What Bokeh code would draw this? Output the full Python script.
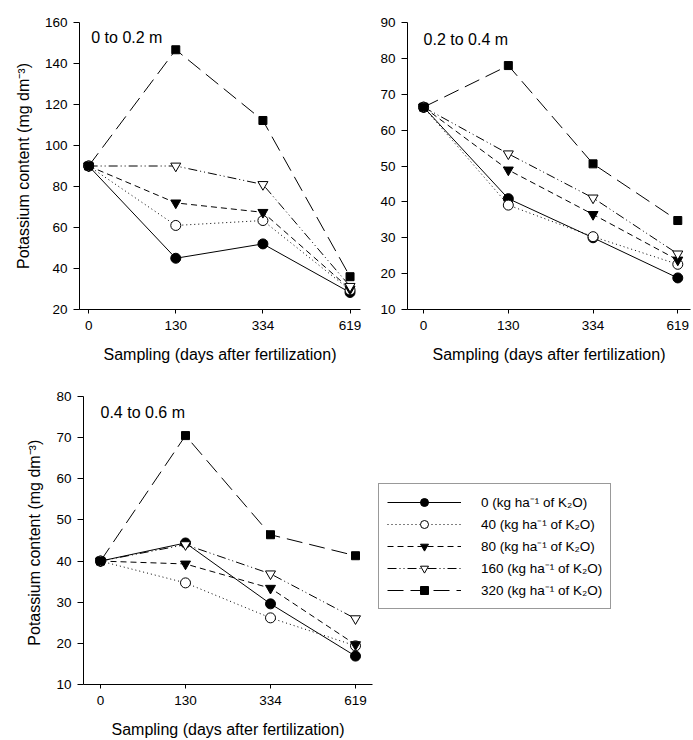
from bokeh.plotting import figure
from bokeh.layouts import column, row
from bokeh.models import FixedTicker, Label, Legend, LegendItem
from bokeh.embed import file_html
from bokeh.resources import INLINE

# ---------------- data ----------------
days = ["0", "130", "334", "619"]
doses = ["0", "40", "80", "160", "320"]

depth1 = "0 to 0.2 m"
k_0_20_d0 = [90, 45, 52, 28.3]
k_0_20_d40 = [90, 61, 63.4, 29.5]
k_0_20_d80 = [90, 72, 67.4, 30]
k_0_20_d160 = [90, 90, 81, 31.3]
k_0_20_d320 = [90, 146.7, 112.2, 36]

depth2 = "0.2 to 0.4 m"
k_20_40_d0 = [66.4, 40.9, 30, 18.8]
k_20_40_d40 = [66.4, 39.1, 30.3, 22.6]
k_20_40_d80 = [66.4, 48.9, 36.5, 23.8]
k_20_40_d160 = [66.4, 53.4, 41.1, 25.5]
k_20_40_d320 = [66.4, 78, 50.6, 34.8]

depth3 = "0.4 to 0.6 m"
k_40_60_d0 = [40, 44.4, 29.6, 16.9]
k_40_60_d40 = [40, 34.7, 26.2, 19.4]
k_40_60_d80 = [40, 39.3, 33.4, 19.7]
k_40_60_d160 = [40, 44, 36.9, 26]
k_40_60_d320 = [40, 70.5, 46.4, 41.3]

FONT = "Liberation Sans"
xpos = list(range(len(days)))

styles = [
    dict(dash="solid", marker="circle", fill="black", size=10),
    dict(dash="1 3", marker="circle", fill="white", size=10),
    dict(dash="6 4", marker="inverted_triangle", fill="black", size=10),
    dict(dash="9 3 1 3 1 3", marker="inverted_triangle", fill="white", size=10),
    dict(dash="16 7", marker="square", fill="black", size=8),
]


def make_panel(series, ylo, yhi, ystep, xlo, xhi, width, height, bl, br, bt, bb,
               title, title_xy, ylabel):
    p = figure(width=width, height=height, x_range=(xlo, xhi), y_range=(ylo, yhi),
               output_backend="svg", toolbar_location=None,
               min_border_left=bl, min_border_right=br,
               min_border_top=bt, min_border_bottom=bb)
    p.outline_line_color = None
    p.grid.visible = False
    p.background_fill_color = "white"
    p.border_fill_color = "white"
    for vals, st in zip(series, styles):
        p.line(xpos, vals, line_color="black", line_width=1, line_dash=st["dash"])
        p.scatter(xpos, vals, marker=st["marker"], size=st["size"],
                  fill_color=st["fill"], line_color="black", line_width=1)
    xa = p.xaxis[0]
    xa.ticker = FixedTicker(ticks=xpos)
    xa.major_label_overrides = {i: d for i, d in zip(xpos, days)}
    xa.axis_label = "Sampling (days after fertilization)"
    ya = p.yaxis[0]
    ya.ticker = FixedTicker(ticks=list(range(ylo, yhi + 1, ystep)))
    if ylabel:
        ya.axis_label = ylabel
    for ax in (xa, ya):
        ax.axis_line_color = "black"
        ax.major_tick_line_color = "black"
        ax.minor_tick_line_color = None
        ax.major_tick_in = 0
        ax.major_label_text_font = FONT
        ax.major_label_text_font_size = "13.5px"
        ax.major_label_text_color = "black"
        ax.axis_label_text_font = FONT
        ax.axis_label_text_font_size = "16px"
        ax.axis_label_text_font_style = "normal"
        ax.axis_label_text_color = "black"
    xa.major_tick_out = 4
    ya.major_tick_out = 6
    xa.major_label_standoff = 7
    xa.axis_label_standoff = 13
    ya.major_label_standoff = 6
    ya.axis_label_standoff = 10
    p.add_layout(Label(x=title_xy[0], y=title_xy[1], text=title, text_font=FONT,
                       text_font_size="16px", text_color="black",
                       text_baseline="middle", text_align="left"))
    return p


p1 = make_panel([k_0_20_d0, k_0_20_d40, k_0_20_d80, k_0_20_d160, k_0_20_d320],
                20, 160, 20, -0.105, 3.12, 365, 375, 79, 5, 22, 65,
                depth1, (0.03, 152.5), "Potassium content (mg dm\u207b\u00b3)")
p2 = make_panel([k_20_40_d0, k_20_40_d40, k_20_40_d80, k_20_40_d160, k_20_40_d320],
                10, 90, 10, -0.19, 3.15, 328, 375, 42, 3, 22, 66,
                depth2, (0.0, 85.3), None)
p3 = make_panel([k_40_60_d0, k_40_60_d40, k_40_60_d80, k_40_60_d160, k_40_60_d320],
                10, 80, 10, -0.2, 3.2, 375, 365, 83, 3, 21, 54,
                depth3, (0.0, 76.2), "Potassium content  (mg dm\u207b\u00b3)")

# legend panel: key glyphs drawn from the same series, kept outside the visible range
pl = figure(width=318, height=365, x_range=(50, 51), y_range=(500, 501),
            output_backend="svg", toolbar_location=None,
            min_border=0, min_border_left=0, min_border_right=0,
            min_border_top=0, min_border_bottom=0)
pl.outline_line_color = None
pl.axis.visible = False
pl.grid.visible = False
pl.background_fill_color = "white"
pl.border_fill_color = "white"
items = []
legend_series = [k_40_60_d0, k_40_60_d40, k_40_60_d80, k_40_60_d160, k_40_60_d320]
for d, st, vals in zip(doses, styles, legend_series):
    lr = pl.line(xpos, vals, line_color="black", line_width=1, line_dash=st["dash"])
    sr = pl.scatter(xpos, vals, marker=st["marker"], size=st["size"],
                    fill_color=st["fill"], line_color="black", line_width=1)
    items.append(LegendItem(label=d + " (kg ha\u207b\u00b9 of K\u2082O)", renderers=[lr, sr]))
leg = Legend(items=items, location=(3, 75), glyph_width=74, glyph_height=20,
             label_height=20, spacing=2, padding=8, margin=0, label_standoff=20,
             label_text_font=FONT, label_text_font_size="13.5px",
             label_text_color="black", border_line_color="#333333",
             border_line_width=1, background_fill_alpha=1.0)
pl.add_layout(leg)

layout = column(row(p1, p2), row(p3, pl))
open("out.html", "w").write(file_html(layout, INLINE))
